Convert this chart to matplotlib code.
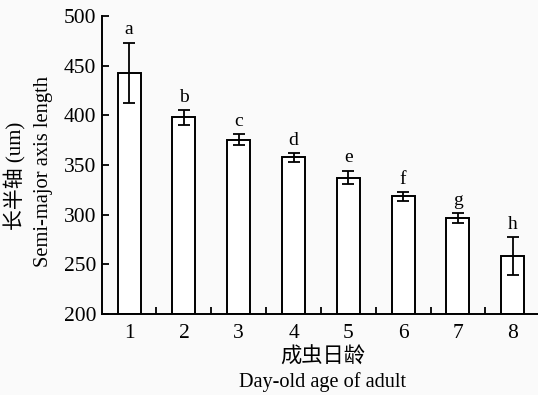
import matplotlib
matplotlib.use('Agg')
import matplotlib.pyplot as plt

# day-old age of adult
days = [1, 2, 3, 4, 5, 6, 7, 8]
# semi-major axis length (um), means and error bars
lengths = [443, 398, 375.5, 358, 337.5, 318.5, 296.5, 258.5]
errors = [30.5, 7.5, 5.5, 4.5, 7, 4.7, 5, 19]
letters = ['a', 'b', 'c', 'd', 'e', 'f', 'g', 'h']

serif = ['Liberation Serif', 'Noto Sans CJK SC']
plt.rcParams['font.family'] = serif

fig = plt.figure(figsize=(5.38, 3.95), dpi=100, facecolor='#fafafa')
ax = fig.add_axes([0.189, 0.205, 0.815, 0.754])
ax.set_facecolor('#fafafa')

ax.bar(days, [v - 200 for v in lengths], bottom=200, width=0.42,
       color='white', edgecolor='black', linewidth=1.4)
ax.errorbar(days, lengths, yerr=errors, fmt='none', ecolor='black',
            elinewidth=1.3, capsize=4.3, capthick=1.3)

for d, v, e, s in zip(days, lengths, errors, letters):
    ax.annotate(s, (d, v + e), xytext=(0, 3), textcoords='offset points',
                ha='center', va='bottom', fontsize=14)

ax.set_xlim(0.5, 8.5)
ax.set_ylim(200, 500)
ax.set_yticks(range(200, 501, 50))
ax.set_xticks(days)
ax.set_xticks([d + 0.5 for d in days[:-1]], minor=True)
ax.tick_params(axis='y', direction='in', length=5, width=1.3, labelsize=15.5, pad=4)
ax.tick_params(axis='x', which='major', length=0, labelsize=15.5, pad=7)
ax.tick_params(axis='x', which='minor', direction='in', length=5, width=1.3)

for side in ['top', 'right']:
    ax.spines[side].set_visible(False)
for side in ['left', 'bottom']:
    ax.spines[side].set_linewidth(1.4)

fig.text(0.028, 0.554, '长半轴 (um)', rotation=90, ha='center', va='center',
         fontsize=15, family=serif)
fig.text(0.08, 0.567, 'Semi-major axis length', rotation=90, ha='center',
         va='center', fontsize=14.8)
fig.text(0.60, 0.094, '成虫日龄', ha='center', va='center', fontsize=15.3,
         family=serif)
fig.text(0.60, 0.033, 'Day-old age of adult', ha='center', va='center',
         fontsize=14.6)

fig.savefig('out.png', dpi=100, facecolor=fig.get_facecolor())
